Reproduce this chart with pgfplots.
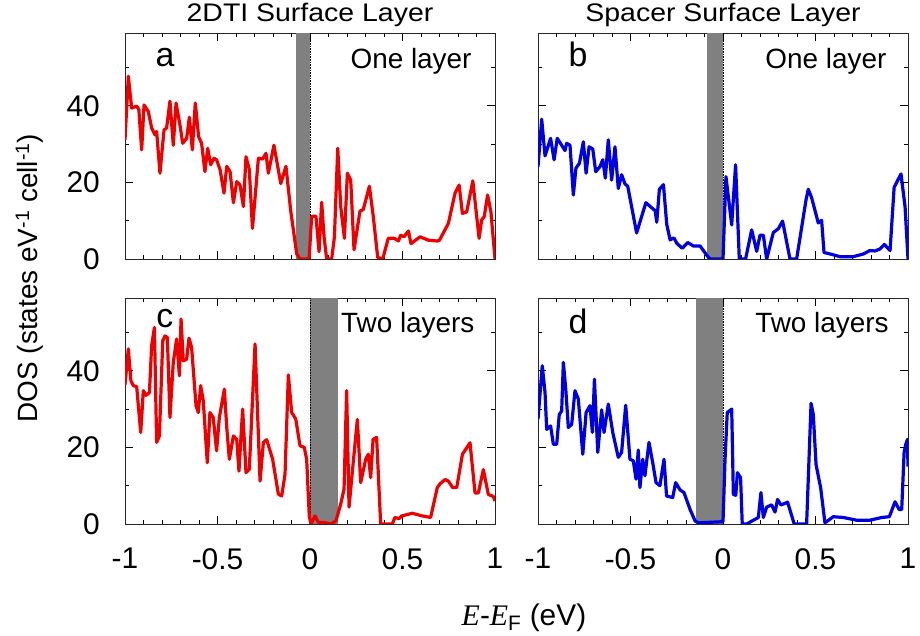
\documentclass[border=0pt]{standalone}
\usepackage{fontspec}
\setmainfont{Liberation Sans}
\newfontfamily\seriffont{Liberation Serif}
\usepackage{pgfplots}
\pgfplotsset{compat=1.18}
\usepgfplotslibrary{groupplots}
\definecolor{bandgray}{RGB}{128,128,128}
\definecolor{cred}{RGB}{238,0,0}
\definecolor{cblue}{RGB}{0,0,225}
\newcommand{\fs}[1]{\fontsize{#1}{#1}\selectfont}
\begin{document}
\begin{tikzpicture}
\begin{groupplot}[
  group style={group size=2 by 2, horizontal sep=43bp, vertical sep=39bp,
    xticklabels at=edge bottom, yticklabels at=edge left},
  scale only axis, width=370bp, height=226bp,
  xmin=-1, xmax=1, ymin=0, ymax=59,
  xtick={-1,-0.5,0,0.5,1}, xticklabels={-1,-0.5,0,0.5,1},
  minor xtick={-0.9,-0.8,-0.7,-0.6,-0.4,-0.3,-0.2,-0.1,0.1,0.2,0.3,0.4,0.6,0.7,0.8,0.9},
  ytick={0,20,40}, yticklabels={0,20,40}, minor ytick={10,30,50},
  major tick length=8bp, minor tick length=4bp, tick align=inside,
  tick style={black, line width=0.6bp},
  axis line style={black!85, line width=0.8bp},
  tick label style={font=\fs{30}},
  xticklabel style={inner sep=0pt, anchor=north, yshift=-24bp},
  yticklabel style={inner sep=0pt, anchor=east, xshift=-25bp},
  every axis plot/.append style={line join=round},
]
% ---------- a ----------
\nextgroupplot
\coordinate (A) at (rel axis cs:0,1);
\addplot[draw=none, fill=bandgray] coordinates {(-0.075,59) (0,59)} \closedcycle;
\addplot[black, densely dotted, line width=0.6bp] coordinates {(0,0) (0,59)};
\addplot[cred, line width=3.2bp] coordinates {
(-1.0,31.1) (-0.982,47.7) (-0.964,39.4) (-0.937,39.9) (-0.925,39.0) (-0.91,28.5) (-0.897,40.2) (-0.874,38.5)
(-0.856,34.2) (-0.838,32.4) (-0.829,33.3) (-0.811,22.4) (-0.789,33.7) (-0.775,34.2) (-0.757,41.2) (-0.739,29.7)
(-0.724,40.7) (-0.703,35.0) (-0.688,30.2) (-0.667,31.5) (-0.652,37.0) (-0.636,28.5) (-0.620,40.7) (-0.602,31.9)
(-0.586,30.2) (-0.568,22.8) (-0.553,28.9) (-0.537,24.6) (-0.519,26.3) (-0.505,25.9) (-0.486,23.3) (-0.465,17.2)
(-0.450,24.2) (-0.432,22.8) (-0.414,14.7) (-0.396,20.2) (-0.378,19.3) (-0.360,13.7) (-0.346,26.7) (-0.328,23.3)
(-0.311,8.0) (-0.279,26.3) (-0.256,26.1) (-0.238,27.6) (-0.225,22.4) (-0.195,29.7) (-0.158,19.7) (-0.130,24.2)
(-0.104,12.5) (-0.072,1.4) (-0.054,0.0) (-0.005,0.0) (0.009,11.1) (0.032,11.2) (0.049,1.9) (0.063,14.8)
(0.076,5.8) (0.090,0.0) (0.117,0.0) (0.132,5.8) (0.150,28.9) (0.166,13.7) (0.186,5.4) (0.202,22.4)
(0.220,20.6) (0.238,2.4) (0.270,12.5) (0.288,12.9) (0.321,19.0) (0.342,11.1) (0.366,0.4) (0.393,0.0)
(0.423,5.4) (0.456,5.4) (0.478,4.7) (0.490,6.2) (0.508,5.8) (0.532,7.3) (0.546,4.0) (0.595,5.8)
(0.640,4.9) (0.688,4.7) (0.700,4.9) (0.748,9.3) (0.784,17.2) (0.806,19.3) (0.824,11.9) (0.847,12.3)
(0.880,20.4) (0.914,5.4) (0.928,10.2) (0.942,11.1) (0.960,16.7) (0.978,12.3) (1.0,0.0)};
\node[anchor=base, font=\fs{34}] at (rel axis cs:0.108,0.85) {a};
\node[anchor=base east, font=\fs{28}] at (rel axis cs:0.946,0.845) {One layer};
% ---------- b ----------
\nextgroupplot
\addplot[draw=none, fill=bandgray] coordinates {(-0.088,59) (0,59)} \closedcycle;
\addplot[black, densely dotted, line width=0.6bp] coordinates {(0,0) (0,59)};
\addplot[cblue, line width=3.2bp] coordinates {
(-1.0,24.1) (-0.98,36.5) (-0.962,26.9) (-0.932,31.5) (-0.913,25.9) (-0.896,31.5) (-0.872,29.7) (-0.854,28.3)
(-0.845,30.2) (-0.827,29.7) (-0.809,16.7) (-0.795,23.7) (-0.776,25.0) (-0.755,30.6) (-0.740,22.4) (-0.724,29.3)
(-0.704,28.7) (-0.688,22.8) (-0.665,24.1) (-0.650,25.9) (-0.636,21.1) (-0.620,31.1) (-0.602,20.6) (-0.584,29.3)
(-0.566,18.4) (-0.548,22.0) (-0.530,19.6) (-0.515,19.0) (-0.467,6.8) (-0.417,14.7) (-0.367,12.6) (-0.358,9.6)
(-0.344,18.2) (-0.322,19.4) (-0.304,9.0) (-0.286,5.0) (-0.265,5.5) (-0.250,4.1) (-0.220,2.8) (-0.191,4.3)
(-0.160,3.4) (-0.124,3.4) (-0.088,1.0) (-0.07,0) (0,0) (0.016,21.5) (0.047,8.9) (0.068,24.6)
(0.088,0) (0.122,0) (0.155,7.6) (0.182,2.0) (0.2,6.2) (0.218,6.2) (0.236,0) (0.272,6.9)
(0.299,7.9) (0.322,9.9) (0.362,0) (0.398,0) (0.449,15.5) (0.461,18.2) (0.479,16.0) (0.515,9.4)
(0.533,10.1) (0.546,1.7) (0.596,1.1) (0.632,0.6) (0.704,0.6) (0.758,1.3) (0.794,2.2) (0.821,2.1)
(0.848,2.6) (0.872,3.8) (0.903,2.2) (0.925,18.7) (0.962,22.2) (0.984,13.7) (1.0,0)};
\node[anchor=base, font=\fs{34}] at (rel axis cs:0.108,0.85) {b};
\node[anchor=base east, font=\fs{28}] at (rel axis cs:0.951,0.845) {One layer};
% ---------- c ----------
\nextgroupplot
\addplot[draw=none, fill=bandgray] coordinates {(0,59) (0.15,59)} \closedcycle;
\addplot[black, densely dotted, line width=0.6bp] coordinates {(0,0) (0,59)};
\addplot[cred, line width=3.2bp] coordinates {
(-1.0,36.3) (-0.982,45.7) (-0.968,37.4) (-0.955,36.1) (-0.937,35.9) (-0.915,23.9) (-0.901,34.8) (-0.886,33.6)
(-0.868,34.3) (-0.856,46.5) (-0.841,51.3) (-0.829,21.3) (-0.814,23.0) (-0.796,47.8) (-0.784,49.1) (-0.771,48.7)
(-0.757,27.8) (-0.739,42.2) (-0.721,48.3) (-0.706,38.7) (-0.697,53.5) (-0.685,42.6) (-0.667,43.0) (-0.654,48.5)
(-0.640,46.1) (-0.616,30.9) (-0.604,29.1) (-0.591,36.1) (-0.577,32.2) (-0.555,16.0) (-0.541,29.1) (-0.523,27.8)
(-0.505,19.1) (-0.490,27.8) (-0.463,35.2) (-0.450,25.2) (-0.436,16.9) (-0.414,23.0) (-0.396,22.1) (-0.384,13.8)
(-0.364,30.0) (-0.346,13.4) (-0.328,14.3) (-0.297,47.0) (-0.270,11.2) (-0.252,21.3) (-0.234,22.0) (-0.202,16.9)
(-0.171,7.8) (-0.153,7.3) (-0.135,13.0) (-0.117,38.9) (-0.099,29.1) (-0.077,27.4) (-0.054,20.4) (-0.031,20.0)
(-0.018,16.9) (-0.004,2.1) (0.005,0) (0.027,2.1) (0.045,0.4) (0.076,0.4) (0.112,0) (0.14,0.8)
(0.166,5.2) (0.184,9.1) (0.198,34.8) (0.211,4.4) (0.233,15.7) (0.256,27.3) (0.274,10.8) (0.301,16.9)
(0.315,18.2) (0.328,12.1) (0.341,22.1) (0.36,22.6) (0.382,0) (0.445,0) (0.459,1.7) (0.481,1.4)
(0.495,2.1) (0.553,2.8) (0.607,2.1) (0.652,1.7) (0.688,9.5) (0.703,10.5) (0.730,11.6) (0.748,11.2)
(0.771,9.5) (0.793,9.5) (0.824,18.2) (0.865,21.2) (0.892,8.1) (0.910,8.1) (0.937,14.2) (0.964,7.7)
(0.991,7.2) (1.0,6.0)};
\node[anchor=base, font=\fs{34}] at (rel axis cs:0.108,0.87) {c};
\node[anchor=base east, font=\fs{28}] at (rel axis cs:0.954,0.849) {Two layers};
% ---------- d ----------
\nextgroupplot
\addplot[draw=none, fill=bandgray] coordinates {(-0.148,59) (0,59)} \closedcycle;
\addplot[black, densely dotted, line width=0.6bp] coordinates {(0,0) (0,59)};
\addplot[cblue, line width=3.2bp] coordinates {
(-1.0,27.4) (-0.977,41.3) (-0.962,34.3) (-0.953,24.7) (-0.932,25.6) (-0.917,20.8) (-0.899,20.8) (-0.885,28.6)
(-0.872,29.5) (-0.863,42.2) (-0.850,35.2) (-0.836,25.2) (-0.818,26.0) (-0.800,34.8) (-0.782,32.6) (-0.758,18.2)
(-0.740,29.1) (-0.719,30.9) (-0.706,23.9) (-0.695,37.8) (-0.677,18.7) (-0.656,29.8) (-0.643,23.9) (-0.620,31.3)
(-0.596,23.9) (-0.566,17.4) (-0.548,18.7) (-0.526,31.0) (-0.503,16.9) (-0.485,16.5) (-0.470,11.7) (-0.458,19.3)
(-0.449,9.5) (-0.434,16.9) (-0.422,12.6) (-0.400,21.3) (-0.380,16.0) (-0.362,10.8) (-0.341,10.0) (-0.319,16.9)
(-0.305,7.3) (-0.272,6.9) (-0.256,10.8) (-0.232,8.9) (-0.211,8.2) (-0.178,3.8) (-0.151,0.8) (-0.133,0.3)
(0,0.6) (0.011,16.9) (0.023,29.1) (0.047,30.0) (0.056,7.7) (0.069,7.5) (0.078,13.4) (0.095,12.1)
(0.104,0) (0.128,0) (0.191,1.7) (0.205,8.2) (0.218,1.7) (0.236,4.4) (0.263,5.0) (0.281,3.1)
(0.295,6.4) (0.313,5.0) (0.326,5.2) (0.349,5.7) (0.385,0) (0.452,0) (0.476,31.5) (0.488,28.6)
(0.503,15.5) (0.528,9.4) (0.551,0.3) (0.596,1.9) (0.65,1.7) (0.722,1.0) (0.795,1.0) (0.858,1.7)
(0.899,1.9) (0.930,5.8) (0.952,3.8) (0.966,3.8) (0.979,18.7) (0.988,20.8) (0.997,22.1) (1.0,15.0)};
\node[anchor=base, font=\fs{34}] at (rel axis cs:0.108,0.844) {d};
\node[anchor=base east, font=\fs{28}] at (rel axis cs:0.957,0.849) {Two layers};
\end{groupplot}
\node[anchor=base, font=\fs{25.5}, xscale=1.12, inner sep=0pt] at ([shift={(185bp,11bp)}]A) {2DTI Surface Layer};
\node[anchor=base, font=\fs{25.5}, xscale=1.12, inner sep=0pt] at ([shift={(598bp,11bp)}]A) {Spacer Surface Layer};
\node[rotate=90, anchor=base, font=\fs{28}] at ([shift={(-87bp,-245bp)}]A)
  {DOS (states eV\textsuperscript{-1} cell\textsuperscript{-1})};
\node[anchor=base, font=\fs{30}] at ([shift={(399bp,-592bp)}]A)
  {{\seriffont\itshape E}-{\seriffont\itshape E}\textsubscript{F} (eV)};
\pgfresetboundingbox
\path[use as bounding box] ([shift={(-125bp,33bp)}]A) rectangle ([shift={(795bp,-603bp)}]A);
\end{tikzpicture}
\end{document}
